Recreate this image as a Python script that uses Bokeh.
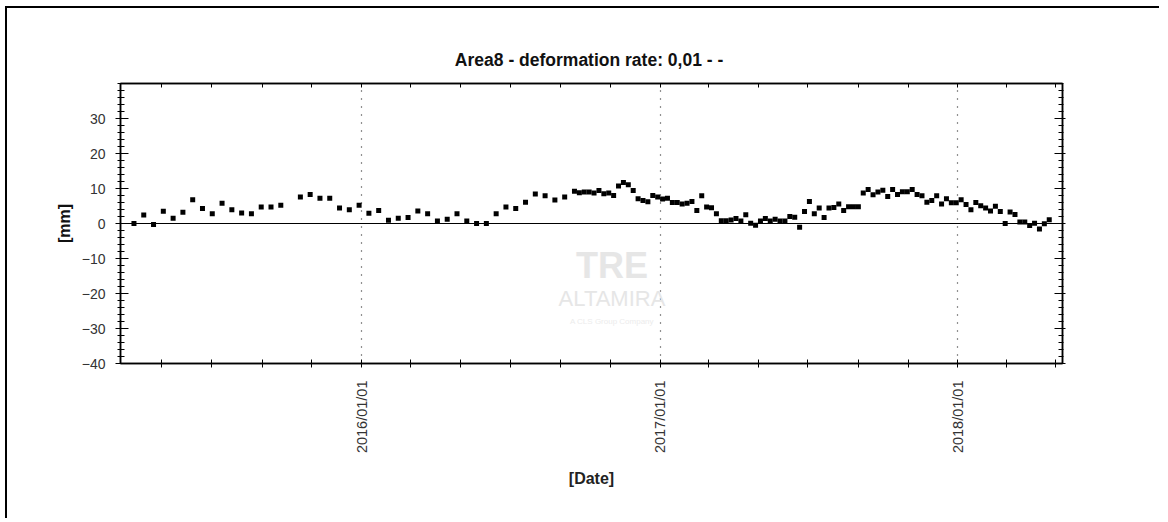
import math
import pandas as pd
from bokeh.plotting import figure
from bokeh.models import (Range1d, FixedTicker, LinearAxis, DatetimeAxis,
                          CustomJSTickFormatter, Label, ColumnDataSource)
from bokeh.embed import file_html
from bokeh.resources import INLINE

# ---------------- data ----------------
title_text = "Area8 - deformation rate: 0,01 -  -"
base_date = "2016-01-01"
# acquisition dates, as days after base_date
days_after_base = [
    -279, -267, -255, -243, -231, -219, -207, -195, -183, -171, -159, -147,
    -135, -123, -111, -99, -75, -63, -51, -39, -27, -15, -3, 9, 21, 33, 45,
    57, 69, 81, 93, 105, 117, 129, 141, 153, 165, 177, 189, 201, 213, 225,
    237, 249, 261, 267, 273, 279, 285, 291, 297, 303, 309, 315, 321, 327,
    333, 339, 345, 351, 357, 363, 369, 375, 381, 387, 393, 399, 405, 411,
    417, 423, 429, 435, 441, 447, 453, 459, 465, 471, 477, 483, 489, 495,
    501, 507, 513, 519, 525, 531, 537, 543, 549, 555, 561, 567, 573, 579,
    585, 591, 597, 603, 609, 615, 621, 627, 633, 639, 645, 651, 657, 663,
    669, 675, 681, 687, 693, 699, 705, 711, 717, 723, 729, 735, 741, 747,
    753, 759, 765, 771, 777, 783, 789, 795, 801, 807, 813, 819, 825, 831,
    837, 843,
]
deformation_mm = [
    0.0, 2.4, -0.3, 3.5, 1.5, 3.2, 6.8, 4.3, 2.8, 5.8, 3.9, 3.0,
    2.8, 4.7, 4.7, 5.2, 7.6, 8.3, 7.2, 7.2, 4.4, 3.9, 5.2, 2.9, 3.7, 0.9, 1.5,
    1.7, 3.6, 2.8, 0.7, 1.2, 2.8, 0.7, 0.0, 0.0, 2.8, 4.7, 4.3, 6.1, 8.4, 7.9,
    6.7, 7.6, 9.2, 8.8, 9.0, 9.0, 8.7, 9.4, 8.5, 8.7, 8.0, 10.7, 11.7, 11.1,
    9.4, 7.1, 6.6, 6.2, 8.0, 7.6, 7.0, 7.2, 6.0, 6.0, 5.6, 5.8, 6.3, 3.7,
    7.9, 4.7, 4.5, 2.8, 0.8, 0.8, 1.0, 1.4, 0.7, 2.5, 0.1, -0.5, 0.7, 1.4,
    0.7, 1.2, 0.7, 0.7, 2.0, 1.8, -1.1, 3.4, 6.3, 2.8, 4.4, 1.7, 4.4, 4.6,
    5.6, 3.7, 4.8, 4.8, 4.8, 8.7, 9.7, 8.2, 9.0, 9.5, 7.7, 9.7, 8.3, 9.1,
    9.1, 9.7, 8.3, 7.9, 6.1, 6.6, 7.9, 5.6, 7.1, 5.9, 5.9, 6.8, 5.4, 3.9,
    6.0, 5.1, 4.4, 3.6, 4.9, 3.4, 0.0, 3.3, 2.6, 0.4, 0.4, -0.6, 0.1, -1.6,
    -0.1, 1.1,
]
date_ticks = [
    "2015-05-01", "2015-07-01", "2015-09-01", "2015-11-01",
    "2016-01-01", "2016-03-01", "2016-05-01", "2016-07-01", "2016-09-01", "2016-11-01",
    "2017-01-01", "2017-03-01", "2017-05-01", "2017-07-01", "2017-09-01", "2017-11-01",
    "2018-01-01", "2018-03-01", "2018-05-01",
]
year_lines = ["2016-01-01", "2017-01-01", "2018-01-01"]
y_major_ticks = [-40, -30, -20, -10, 0, 10, 20, 30]
y_minor_ticks = list(range(-40, 41, 2))
x_start = "2015-03-11 12:00"
x_end = "2018-05-09 06:00"
y_start, y_end = -40, 40


def ms(s):
    return pd.Timestamp(s).timestamp() * 1000.0


dates = pd.Timestamp(base_date) + pd.to_timedelta(days_after_base, unit="D")
src = ColumnDataSource(data=dict(date=dates, mm=deformation_mm))

FONT = "Liberation Sans"

p = figure(width=1154, height=512,
           x_range=Range1d(ms(x_start), ms(x_end)),
           y_range=Range1d(y_start, y_end),
           x_axis_type="datetime",
           output_backend="svg", toolbar_location=None,
           min_border_left=113, min_border_right=99,
           min_border_top=75, min_border_bottom=157,
           title=title_text)
p.styles = {"margin-left": "5px", "margin-top": "6px",
            "border-top": "2px solid #000", "border-left": "2px solid #000"}
p.background_fill_color = "white"
p.border_fill_color = "white"
p.outline_line_color = "black"
p.outline_line_width = 1.5

p.title.align = "center"
p.title.text_font = FONT
p.title.text_font_size = "17.5px"
p.title.text_font_style = "bold"
p.title.text_color = "#111111"
p.title.standoff = 27

xticker = FixedTicker(ticks=[ms(d) for d in date_ticks])
yticker = FixedTicker(ticks=y_major_ticks, minor_ticks=y_minor_ticks)

year_fmt = CustomJSTickFormatter(code="""
const d = new Date(tick);
if (d.getUTCMonth() == 0 && d.getUTCDate() == 1) {
  return d.getUTCFullYear() + "/01/01";
}
return "";
""")
blank_fmt = CustomJSTickFormatter(code="return '';")

# bottom axis
xa = p.xaxis[0]
xa.ticker = xticker
xa.formatter = year_fmt
xa.major_label_orientation = math.pi / 2
xa.major_label_text_font = FONT
xa.major_label_text_font_size = "14.5px"
xa.major_label_text_color = "#333333"
xa.major_label_standoff = 13
xa.major_tick_in = 4
xa.major_tick_out = 4
xa.minor_tick_line_color = None
xa.axis_line_color = "black"
xa.axis_line_width = 1.5
xa.axis_label = "[Date]"
xa.axis_label_text_font = FONT
xa.axis_label_text_font_size = "16px"
xa.axis_label_text_font_style = "bold"
xa.axis_label_text_color = "#222222"
xa.axis_label_standoff = 14

# left axis
ya = p.yaxis[0]
ya.ticker = yticker
ya.major_label_text_font = FONT
ya.major_label_text_font_size = "14px"
ya.major_label_text_color = "#333333"
ya.major_label_standoff = 10
ya.major_tick_in = 8
ya.major_tick_out = 5
ya.minor_tick_in = 4
ya.minor_tick_out = 3
ya.axis_line_color = "black"
ya.axis_line_width = 1.5
ya.axis_label = "[mm]"
ya.axis_label_text_font = FONT
ya.axis_label_text_font_size = "16px"
ya.axis_label_text_font_style = "bold"
ya.axis_label_text_color = "#111111"
ya.axis_label_standoff = 6

# mirrored right and top axes (ticks only)
ra = LinearAxis(ticker=yticker, formatter=blank_fmt,
                major_tick_in=8, major_tick_out=3,
                minor_tick_in=4, minor_tick_out=1,
                axis_line_color="black", axis_line_width=1.5,
                major_label_text_font_size="1px")
p.add_layout(ra, "right")
ta = DatetimeAxis(ticker=xticker, formatter=blank_fmt,
                  major_tick_in=4, major_tick_out=0,
                  minor_tick_line_color=None,
                  axis_line_color="black", axis_line_width=1.5,
                  major_label_text_font_size="1px")
p.add_layout(ta, "above")

# grids: dotted yearly verticals and the zero line
p.xgrid.ticker = FixedTicker(ticks=[ms(d) for d in year_lines])
p.xgrid.grid_line_color = "#222222"
p.xgrid.grid_line_dash = "1 7"
p.xgrid.grid_line_width = 1.2
p.ygrid.ticker = FixedTicker(ticks=[0])
p.ygrid.grid_line_color = "black"
p.ygrid.grid_line_width = 1.2

# faint watermark
wm_x = ms("2016-11-03")
p.add_layout(Label(x=wm_x, y=-12, text="TRE", text_align="center",
                   text_baseline="middle", text_font=FONT,
                   text_font_size="36px", text_font_style="bold",
                   text_color="#e6e6e6"))
p.add_layout(Label(x=wm_x, y=-21.5, text="ALTAMIRA", text_align="center",
                   text_baseline="middle", text_font=FONT,
                   text_font_size="22px", text_color="#e6e6e6"))
p.add_layout(Label(x=wm_x, y=-28, text="A CLS Group Company", text_align="center",
                   text_baseline="middle", text_font=FONT,
                   text_font_size="8px", text_color="#ececec"))

p.scatter(x="date", y="mm", source=src, marker="square", size=5,
          color="black", line_width=0)

open("out.html", "w").write(file_html(p, INLINE))
